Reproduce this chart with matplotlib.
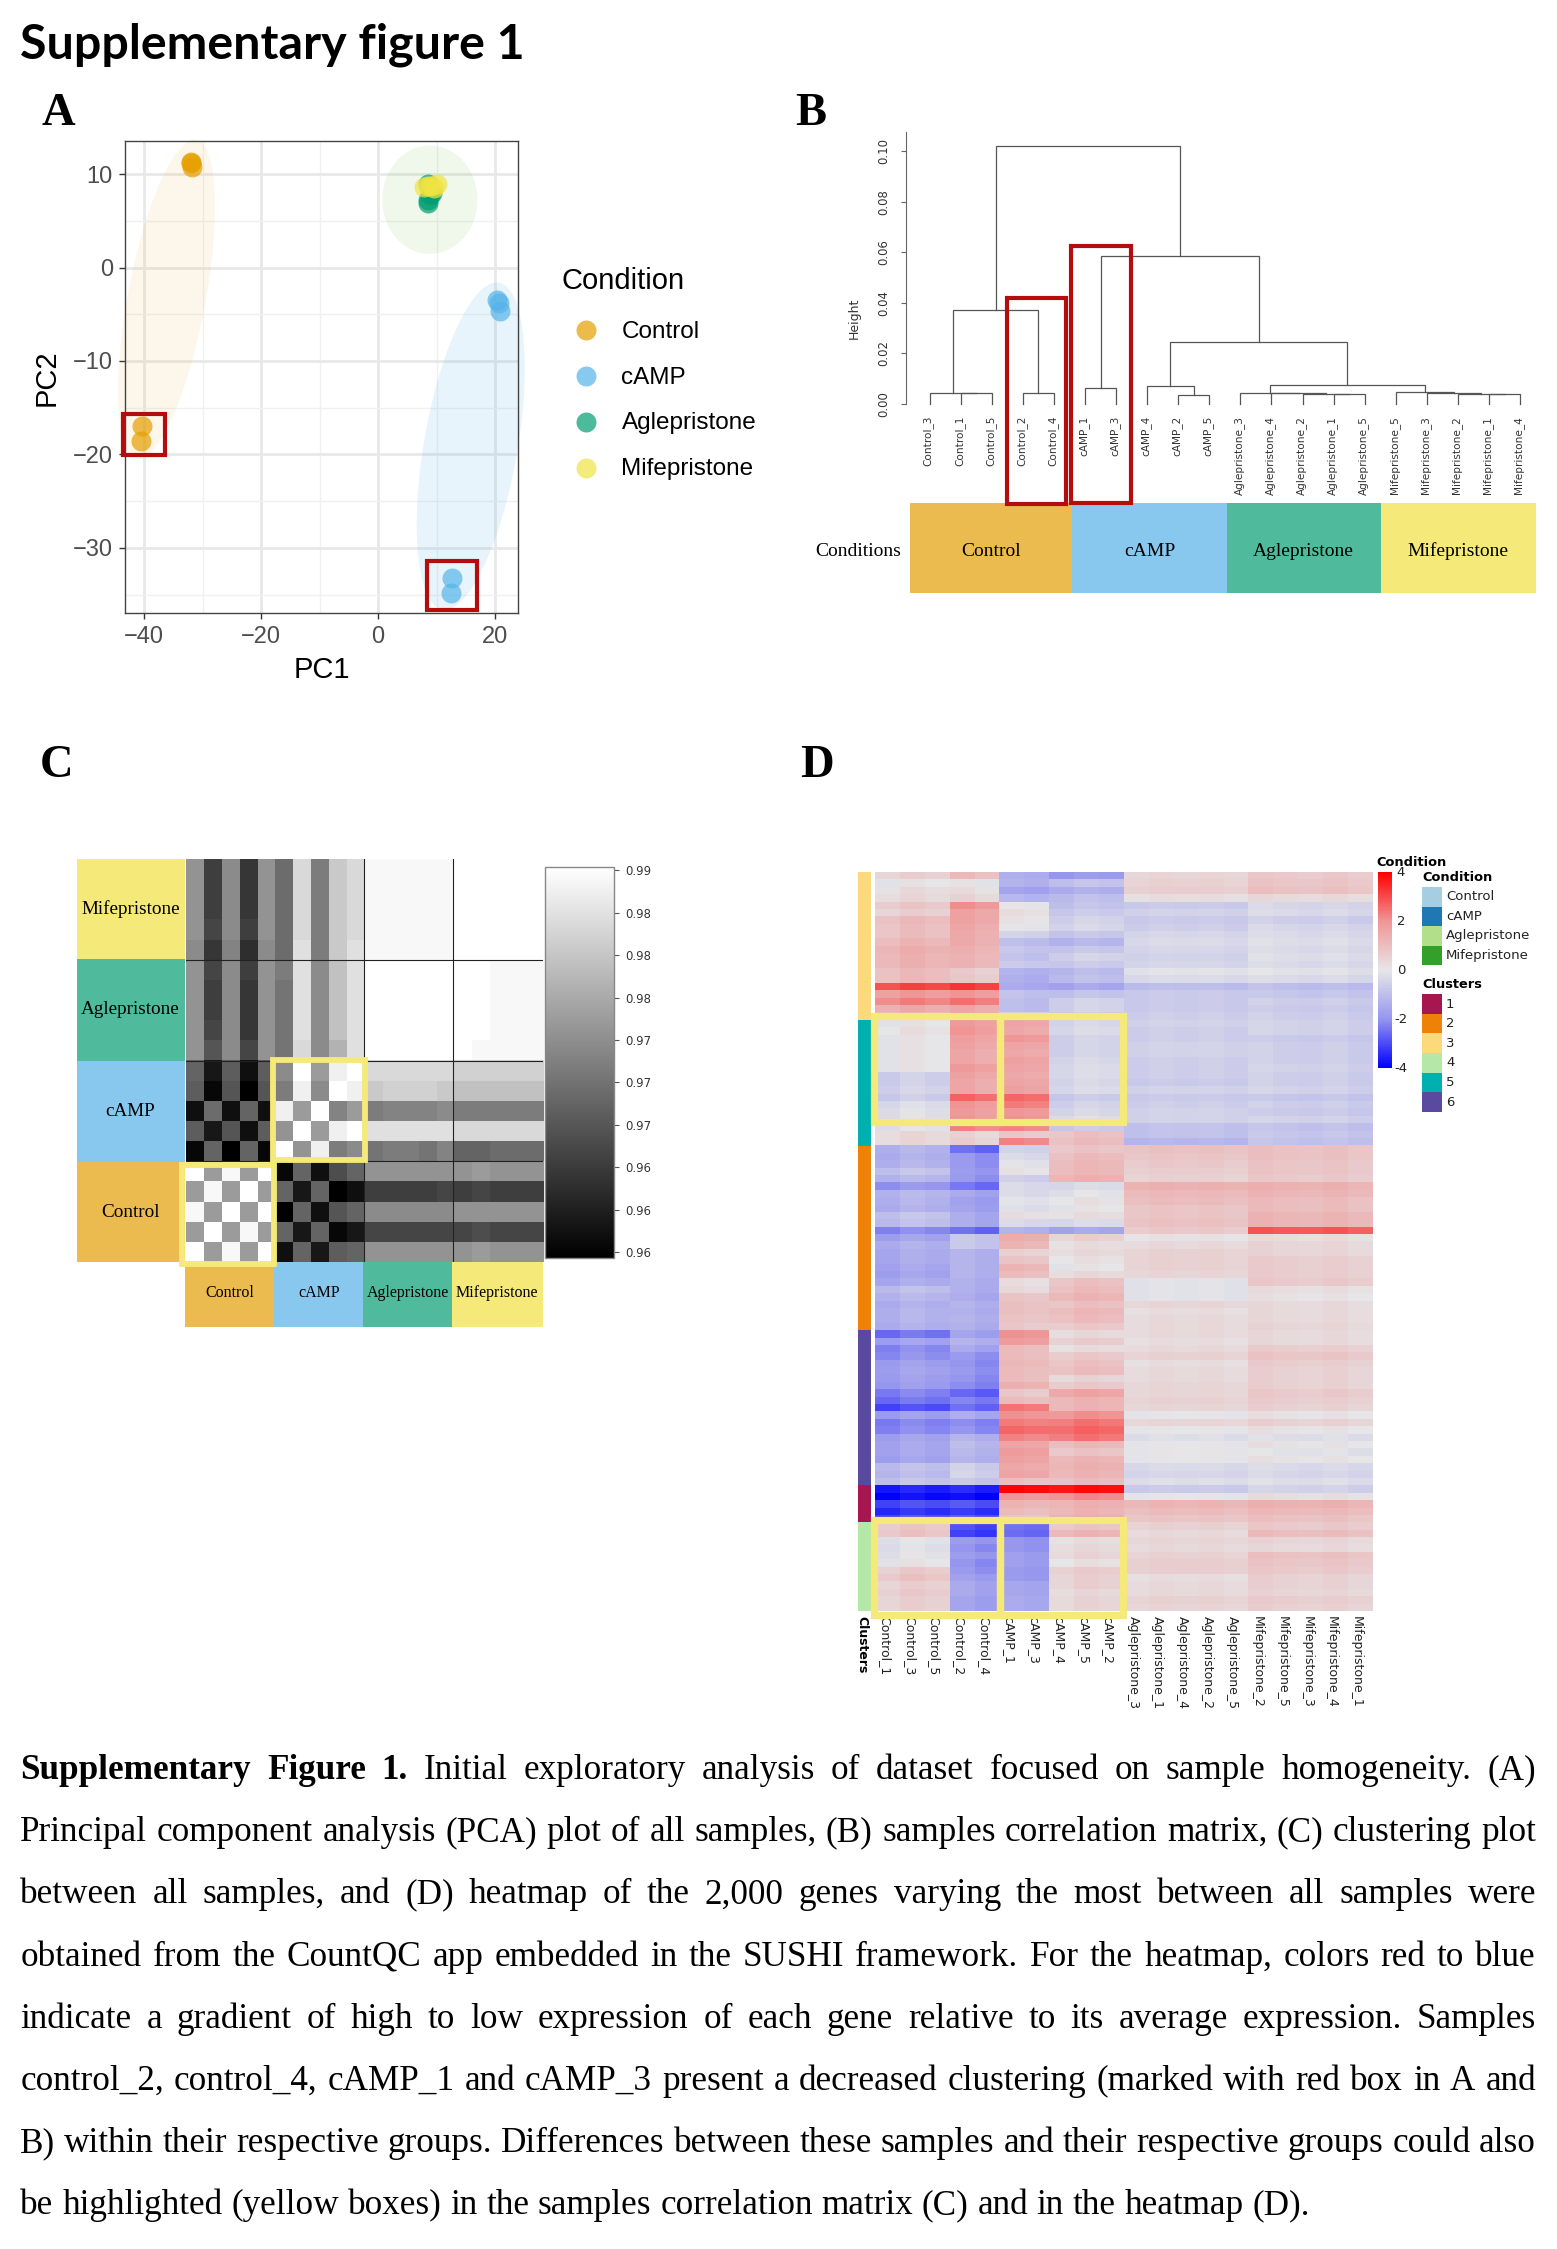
import numpy as np
import matplotlib
matplotlib.use("Agg")
import matplotlib.pyplot as plt
from matplotlib.colors import LinearSegmentedColormap
from matplotlib.patches import Rectangle

W, H = 1557, 2249
SERIF = "Liberation Serif"
SANS = "Liberation Sans"
C_CTRL, C_CAMP, C_AGLE, C_MIFE = "#ecbb4f", "#88c8ef", "#4fbb9c", "#f5e97a"
RED, YEL = "#b50d0d", "#f5e97a"

# ---------- Panel A data ----------
conditions = ["Control", "cAMP", "Aglepristone", "Mifepristone"]
pca_colors = ["#E69F00", "#56B4E9", "#009E73", "#F0E442"]
pc1 = [[-32.0, -31.8, -32.0, -40.4, -40.6],
       [20.3, 20.6, 20.9, 12.6, 12.5],
       [8.5, 8.9, 8.5, 8.6, 9.3],
       [7.8, 9.1, 10.0, 8.5, 9.5]]
pc2 = [[11.3, 10.7, 11.2, -17.0, -18.6],
       [-3.5, -3.8, -4.65, -33.2, -34.8],
       [8.9, 7.8, 6.9, 7.2, 8.0],
       [8.6, 8.7, 8.9, 8.75, 8.5]]
# centre x, centre y, half-width x, half-width y, correlation
ellipses = [(-36.2, -3.4, 8.3, 17.1, 0.58, "#E69F00", 0.08),
            (15.85, -19.1, 9.25, 17.5, 0.48, "#56B4E9", 0.14),
            (8.85, 7.25, 8.15, 5.8, 0.0, "#7CC04C", 0.11)]

# ---------- Panel B data: (height, left, right) ----------
den_ctrl = (0.0372,
            (0.0044, "Control_3", (0.0041, "Control_1", "Control_5")),
            (0.0044, "Control_2", "Control_4"))
den_camp13 = (0.0064, "cAMP_1", "cAMP_3")
den_camp = (0.0070, "cAMP_4", (0.0035, "cAMP_2", "cAMP_5"))
den_agle = (0.0044, "Aglepristone_3", (0.0041, "Aglepristone_4",
            (0.0038, "Aglepristone_2", (0.0037, "Aglepristone_1", "Aglepristone_5"))))
den_mife = (0.0045, "Mifepristone_5", (0.0044, "Mifepristone_3",
            (0.0040, "Mifepristone_2", (0.0039, "Mifepristone_1", "Mifepristone_4"))))
den_tree = (0.102, den_ctrl,
            (0.0587, den_camp13, (0.0246, den_camp, (0.0076, den_agle, den_mife))))

# ---------- Panel C data (rows top to bottom) ----------
corr = [
 [.976,.965,.975,.964,.976,.971,.985,.973,.983,.985,.989,.989,.989,.989,.989,.990,.990,.990,.990,.990],
 [.976,.965,.975,.964,.976,.971,.985,.973,.983,.985,.989,.989,.989,.989,.989,.990,.990,.990,.990,.990],
 [.976,.965,.975,.964,.976,.971,.985,.973,.983,.985,.989,.989,.989,.989,.989,.990,.990,.990,.990,.990],
 [.976,.966,.975,.965,.976,.971,.985,.973,.983,.985,.989,.989,.989,.989,.989,.990,.990,.990,.990,.990],
 [.975,.964,.974,.963,.975,.971,.986,.973,.983,.986,.989,.989,.989,.989,.989,.990,.990,.990,.990,.990],
 [.976,.966,.975,.965,.976,.973,.986,.975,.982,.986,.990,.990,.990,.990,.990,.990,.990,.989,.989,.989],
 [.976,.965,.975,.964,.976,.972,.986,.975,.982,.986,.990,.990,.990,.990,.990,.990,.990,.989,.989,.989],
 [.976,.965,.975,.964,.976,.972,.986,.975,.982,.986,.990,.990,.990,.990,.990,.990,.990,.989,.989,.989],
 [.976,.966,.975,.964,.976,.972,.986,.975,.982,.986,.990,.990,.990,.990,.990,.990,.990,.989,.989,.989],
 [.976,.968,.975,.966,.976,.972,.985,.975,.980,.986,.990,.990,.990,.990,.990,.990,.989,.989,.989,.989],
 [.970,.960,.969,.959,.969,.975,.990,.977,.988,.990,.985,.985,.985,.985,.985,.984,.984,.984,.984,.984],
 [.969,.958,.968,.957,.968,.973,.988,.975,.990,.988,.983,.984,.984,.984,.983,.982,.982,.982,.982,.982],
 [.959,.971,.959,.970,.959,.988,.977,.990,.974,.977,.973,.974,.974,.974,.975,.973,.973,.973,.973,.973],
 [.969,.960,.968,.959,.969,.976,.990,.977,.988,.990,.986,.986,.986,.986,.986,.985,.985,.985,.985,.985],
 [.958,.970,.957,.970,.958,.990,.976,.988,.973,.975,.972,.973,.973,.972,.974,.970,.970,.971,.971,.971],
 [.990,.977,.989,.977,.990,.958,.970,.959,.967,.970,.976,.976,.976,.976,.976,.976,.977,.976,.976,.976],
 [.977,.989,.977,.990,.977,.970,.960,.970,.957,.959,.965,.965,.965,.965,.966,.965,.966,.965,.965,.965],
 [.989,.977,.990,.977,.990,.957,.970,.959,.968,.970,.975,.975,.975,.975,.975,.976,.976,.976,.976,.976],
 [.977,.990,.977,.989,.977,.970,.960,.970,.958,.960,.966,.966,.966,.966,.966,.966,.967,.966,.966,.966],
 [.990,.977,.989,.977,.990,.959,.970,.960,.969,.970,.976,.976,.976,.976,.976,.976,.977,.976,.976,.976],
]
corr_cbar_labels = ["0.96", "0.96", "0.96", "0.97", "0.97", "0.97", "0.98", "0.98", "0.98", "0.99"]

# ---------- Panel D data ----------
heat_columns = ["Control_1", "Control_3", "Control_5", "Control_2", "Control_4",
                "cAMP_1", "cAMP_3", "cAMP_4", "cAMP_5", "cAMP_2",
                "Aglepristone_3", "Aglepristone_1", "Aglepristone_4", "Aglepristone_2", "Aglepristone_5",
                "Mifepristone_2", "Mifepristone_5", "Mifepristone_3", "Mifepristone_4", "Mifepristone_1"]
column_groups = [0, 0, 0, 1, 1, 2, 2, 3, 3, 3, 4, 4, 4, 4, 4, 5, 5, 5, 5, 5]
# each row: Control 1/3/5, Control 2/4, cAMP 1/3, cAMP 4/5/2, Aglepristone, Mifepristone
cluster3 = [[.5,1.0,-1.4,-1.9,.4,.7],[.0,.0,-1.3,-.9,.5,.8],[.2,.2,-1.7,-1.4,.6,.9],[.3,.4,-1.2,-1.0,.2,.3],
            [.7,2.0,.0,-.9,-.7,-.4],[.5,1.6,.2,-.7,-.5,-.3],[1.0,1.6,.1,-.5,-.7,-.6],[.9,1.5,.0,-.4,-.6,-.4],
            [.9,1.4,-.5,-.8,-.4,-.3],[1.1,1.4,-1.0,-1.2,-.3,-.2],[1.3,1.3,-.8,-.8,-.4,-.3],[1.2,1.2,-.9,-.5,-.5,-.2],
            [1.2,1.2,-.7,-.7,-.4,-.3],[1.0,.6,-1.3,-1.1,-.1,-.1],[1.0,.7,-1.4,-1.0,-.3,-.3],[3.0,3.2,-1.5,-1.6,-1.0,-1.0],
            [1.8,1.9,-.9,-.9,-.7,-.8],[2.2,2.4,-1.0,-.5,-.7,-.6],[1.4,1.5,-1.0,-.5,-.7,-.7],[1.2,1.6,-.6,-.7,-.6,-.6]]
cluster5 = [[.0,1.8,1.6,-.4,-.5,-.5],[.1,1.9,1.5,-.3,-.6,-.5],[.0,1.7,1.9,-.5,-.6,-.7],[.0,1.6,1.6,-.5,-.5,-.6],
            [.0,1.5,1.5,-.5,-.5,-.6],[.0,1.5,1.7,-.4,-.6,-.6],[.0,1.8,1.6,-.3,-.6,-.5],[-.6,1.6,1.5,-.3,-.6,-.6],
            [-.6,1.5,1.6,-.4,-.7,-.6],[-.5,1.5,1.7,-.3,-.5,-.5],[-.7,2.6,2.6,-.7,-.7,-.8],[-.3,1.9,2.3,-.5,-.6,-.6],
            [-.2,1.8,1.9,-.4,-.5,-.7],[-.2,1.9,2.0,-.2,-.5,-.5],[-.1,2.2,2.2,-.7,-.9,-.9],[.3,.4,.7,.9,-.9,-.8],
            [.3,.5,2.2,1.0,-1.2,-.9]]
cluster2 = [[-1.3,-2.6,-.5,.8,.9,.9],[-1.4,-2.0,-.3,1.0,.8,.9],[-1.3,-2.0,-.1,1.1,.7,.8],[-.9,-1.9,.1,1.1,.6,.8],
            [-1.2,-2.0,-.6,1.3,.5,.7],[-2.0,-2.5,-.3,-.3,1.3,1.3],[-1.2,-1.6,-.3,-.1,1.1,1.2],[-1.3,-1.8,-.1,.1,1.0,1.0],
            [-1.4,-1.7,-.2,.0,.8,1.0],[-.9,-1.5,.2,.2,.8,1.2],[-1.0,-1.5,-.3,-.3,.9,1.2],[-2.2,-2.6,-1.3,-1.6,.7,2.8],
            [-1.7,-.8,1.4,.5,.1,.2],[-1.4,-.8,1.2,.2,.3,.4],[-1.5,-1.3,.5,.3,.5,.4],[-1.5,-1.3,.8,.1,.5,.6],
            [-1.6,-1.3,1.2,.0,.5,.6],[-1.7,-1.3,1.0,.3,.4,.6],[-1.5,-1.4,.2,.9,-.1,.7],[-1.0,-1.4,.3,1.0,-.1,.2],
            [-1.2,-1.5,.8,1.2,-.1,.1],[-1.4,-1.3,.9,.9,.4,.3],[-1.3,-1.4,.9,1.1,.2,.3],[-1.3,-1.3,.8,1.0,.3,.3],
            [-1.4,-1.4,.7,.7,.3,.4]]
cluster6 = [[-2.5,-1.7,2.0,.3,.3,.3],[-1.7,-1.3,1.8,.6,.2,.3],[-2.2,-1.6,1.0,.2,.3,.6],[-2.1,-2.0,1.0,.7,.5,.8],
            [-1.8,-2.1,1.1,.9,.2,.6],[-1.7,-2.0,1.0,1.0,.3,.5],[-1.8,-2.1,1.0,.4,.3,.5],[-1.9,-2.2,1.3,.7,.4,.5],
            [-2.3,-2.7,.7,1.6,.4,.7],[-2.5,-2.3,1.0,1.2,.5,.6],[-3.0,-2.6,2.4,1.2,.4,.5],[-1.8,-1.5,2.0,2.0,.0,.1],
            [-2.3,-2.2,2.3,2.4,.4,.5],[-2.2,-2.1,2.6,2.6,.0,.1],[-1.7,-1.3,2.2,2.4,-.2,-.2],[-1.6,-1.1,1.6,1.1,.0,.1],
            [-1.6,-1.2,1.8,.8,.0,-.1],[-1.7,-1.3,1.7,1.2,.0,.1],[-1.0,-.6,1.5,1.3,-.3,-.3],[-1.1,-.5,1.6,1.2,-.4,-.4],
            [-.9,-.8,.9,1.0,-.2,-.2]]
cluster1 = [[-3.6,-3.5,3.9,3.8,-.7,-.5],[-3.9,-3.9,1.9,2.1,.0,.2],[-3.0,-2.9,1.2,1.3,1.2,1.3],
            [-3.4,-3.3,1.0,1.2,1.0,1.1],[-3.0,-2.9,.8,1.4,.8,.9]]
cluster4 = [[.7,-3.0,-2.5,.8,.5,.7],[.8,-3.2,-2.6,1.2,.3,1.0],[-.1,-1.9,-2.0,.2,.4,.4],[-.2,-2.1,-2.0,.3,.3,.3],
            [-.1,-1.9,-1.8,.4,.5,.9],[.0,-2.1,-1.8,.1,.6,.8],[.6,-2.0,-1.9,.6,.6,.7],[.8,-1.8,-1.9,.5,.2,.5],
            [.5,-1.6,-1.6,.5,.3,.5],[.6,-1.6,-1.6,.3,.3,.4],[.5,-1.7,-1.5,.4,.5,.6],[.5,-1.7,-1.5,.4,.4,.5]]
cluster_order = [("3", cluster3, "#fdd97e"), ("5", cluster5, "#00b0ae"), ("2", cluster2, "#ee8208"),
                 ("6", cluster6, "#5a4a9f"), ("1", cluster1, "#a6174f"), ("4", cluster4, "#b5e8a8")]
column_shift = [-.1, .15, 0, .1, -.1, .05, -.05, -.1, .1, 0, -.05, .05, 0, .05, -.05, .1, 0, -.05, .05, -.1]
legend_conditions = [("Control", "#a6cee3"), ("cAMP", "#1f78b4"), ("Aglepristone", "#b2df8a"), ("Mifepristone", "#33a02c")]
legend_clusters = [("1", "#a6174f"), ("2", "#ee8208"), ("3", "#fdd97e"), ("4", "#b5e8a8"), ("5", "#00b0ae"), ("6", "#5a4a9f")]

caption_lines = [
    "Supplementary Figure 1. Initial exploratory analysis of dataset focused on sample homogeneity. (A)",
    "Principal component analysis (PCA) plot of all samples, (B) samples correlation matrix, (C) clustering plot",
    "between all samples, and (D) heatmap of the 2,000 genes varying the most between all samples were",
    "obtained from the CountQC app embedded in the SUSHI framework. For the heatmap, colors red to blue",
    "indicate a gradient of high to low expression of each gene relative to its average expression. Samples",
    "control_2, control_4, cAMP_1 and cAMP_3 present a decreased clustering (marked with red box in A and",
    "B) within their respective groups. Differences between these samples and their respective groups could also",
    "be highlighted (yellow boxes) in the samples correlation matrix (C) and in the heatmap (D).",
]

# ---------- Figure ----------
fig = plt.figure(figsize=(W / 100, H / 100), dpi=100, facecolor="white")


def px_axes(x0, y0, x1, y1, **kw):
    return fig.add_axes([x0 / W, 1 - y1 / H, (x1 - x0) / W, (y1 - y0) / H], **kw)


ov = fig.add_axes([0, 0, 1, 1], zorder=20)
ov.set_xlim(0, W)
ov.set_ylim(H, 0)
ov.axis("off")
ov.patch.set_alpha(0)


def box(x0, y0, x1, y1, color, lw, fill=False):
    if fill:
        ov.add_patch(Rectangle((x0, y0), x1 - x0, y1 - y0, facecolor=color, edgecolor="none"))
    else:
        ov.add_patch(Rectangle((x0, y0), x1 - x0, y1 - y0, fill=False, edgecolor=color, linewidth=lw, joinstyle="miter"))


ov.text(20, 45, "Supplementary figure 1", family="Lato", weight="bold", fontsize=34.8, va="center", ha="left", color="black")
for letter, lx, ly in [("A", 58, 114), ("B", 811, 114), ("C", 57, 766), ("D", 817, 766)]:
    ov.text(lx, ly, letter, family=SERIF, weight="bold", fontsize=33.5, ha="center", va="center", color="black")

# ---------- Panel A ----------
axA = px_axes(125.3, 141.3, 517.8, 613.4)
axA.set_xlim(-43.25, 23.9)
axA.set_ylim(-37.0, 13.5)
axA.set_axisbelow(True)
axA.set_xticks([-40, -20, 0, 20])
axA.set_yticks([-30, -20, -10, 0, 10])
axA.set_xticks([-30, -10, 10], minor=True)
axA.set_yticks([-35, -25, -15, -5, 5], minor=True)
axA.grid(True, which="major", color="#e8e8e8", lw=2.0)
axA.grid(True, which="minor", color="#f0f0f0", lw=1.0)
axA.tick_params(axis="both", which="minor", length=0)
axA.tick_params(axis="both", which="major", length=4, width=1, color="#333333", labelsize=17, labelcolor="#4d4d4d", pad=5)
for lab in axA.get_xticklabels() + axA.get_yticklabels():
    lab.set_family(SANS)
for sp in axA.spines.values():
    sp.set_color("#444444")
    sp.set_linewidth(1.0)
axA.set_xlabel("PC1", family=SANS, fontsize=21, labelpad=6)
axA.set_ylabel("PC2", family=SANS, fontsize=21, labelpad=9)
theta = np.deg2rad(np.arange(0, 361, 3))
for cx, cy, sx, sy, rho, col, alpha in ellipses:
    axA.fill(cx + sx * np.cos(theta), cy + sy * np.cos(theta - np.arccos(rho)),
             color=col, alpha=alpha, lw=0, clip_on=False, zorder=1.5)
for xs, ys, col in zip(pc1, pc2, pca_colors):
    axA.scatter(xs, ys, s=207, color=col, alpha=0.7, linewidths=0, zorder=3)
ov.text(562, 281, "Condition", family=SANS, fontsize=21, va="center", ha="left", color="black")
for name, col, ly in zip(conditions, pca_colors, [330, 376, 421.5, 467.5]):
    ov.scatter([586], [ly], s=207, color=col, alpha=0.7, linewidths=0)
    ov.text(621.5, ly + 1.5, name, family=SANS, fontsize=17.5, va="center", ha="left", color="black")
box(122.8, 414, 165.1, 454.8, RED, 3)
box(426.8, 560.8, 477.5, 610.2, RED, 3)

# ---------- Panel B ----------
axB = px_axes(906.3, 132.3, 1534.7, 403.7)
axB.set_xlim(-0.75, 19.47)
axB.set_ylim(0, 0.1075)
for s in ["top", "right", "bottom"]:
    axB.spines[s].set_visible(False)
axB.spines["left"].set_color("#666666")
axB.set_xticks([])
axB.set_yticks([0, 0.02, 0.04, 0.06, 0.08, 0.10])
axB.set_yticklabels(["0.00", "0.02", "0.04", "0.06", "0.08", "0.10"], rotation=90, va="center",
                    fontsize=8.4, color="#333333", family="DejaVu Sans")
axB.tick_params(axis="y", length=3.6, width=0.8, color="#666666", pad=8)
leaf_counter = [0]


def draw_tree(node):
    if isinstance(node, str):
        x = leaf_counter[0]
        leaf_counter[0] += 1
        axB.text(x - 0.04, -0.0048, node, rotation=90, ha="center", va="top", fontsize=7.6,
                 color="#333333", family="DejaVu Sans", clip_on=False)
        return x, 0.0
    h, left, right = node
    xl, hl = draw_tree(left)
    xr, hr = draw_tree(right)
    axB.plot([xl, xl, xr, xr], [hl, h, h, hr], color="#555555", lw=0.9, solid_joinstyle="miter", clip_on=False)
    return (xl + xr) / 2, h


draw_tree(den_tree)
ov.text(854.5, 318.3, "Height", rotation=90, ha="center", va="center", fontsize=9, color="#333333", family="DejaVu Sans")
bar_edges = [910.2, 1072.3, 1226.9, 1380.6, 1535.8]
for i, (name, col) in enumerate(zip(conditions, [C_CTRL, C_CAMP, C_AGLE, C_MIFE])):
    box(bar_edges[i], 503, bar_edges[i + 1], 593.2, col, 0, fill=True)
    ov.text((bar_edges[i] + bar_edges[i + 1]) / 2, 551, name, family=SERIF, fontsize=14, ha="center", va="center", color="black")
ov.text(901, 551, "Conditions", family=SERIF, fontsize=14, ha="right", va="center", color="black")
box(1006.9, 297.7, 1066.4, 503.6, RED, 3)
box(1071.3, 246.3, 1130.9, 503.3, RED, 3)

# ---------- Panel C ----------
axC = px_axes(185.5, 859.3, 542.6, 1262)
imC = axC.imshow(np.array(corr), cmap="gray", vmin=0.957, vmax=0.990, aspect="auto", interpolation="nearest")
axC.set_xticks([])
axC.set_yticks([])
for sp in axC.spines.values():
    sp.set_visible(False)
for v in [9.5, 14.5]:
    axC.axvline(v, color="#222222", lw=0.8)
for v in [4.5, 9.5, 14.5]:
    axC.axhline(v, color="#222222", lw=0.8)
caxC = px_axes(544.9, 866.7, 613.6, 1258)
cb = fig.colorbar(imC, cax=caxC)
cb.set_ticks(np.linspace(0.9575, 0.9897, 10))
cb.set_ticklabels(corr_cbar_labels)
cb.ax.tick_params(length=3.6, width=0.8, color="#555555", labelsize=8.4, labelcolor="#333333", pad=5)
cb.outline.set_edgecolor("#888888")
cb.outline.set_linewidth(1)
rows_c = [859.3, 959.3, 1060.7, 1162.3, 1262]
for i, (name, col) in enumerate(zip(["Mifepristone", "Aglepristone", "cAMP", "Control"], [C_MIFE, C_AGLE, C_CAMP, C_CTRL])):
    box(76.9, rows_c[i], 185.5, rows_c[i + 1], col, 0, fill=True)
    ov.text(130.5, (rows_c[i] + rows_c[i + 1]) / 2, name, family=SERIF, fontsize=13.8, ha="center", va="center", color="black")
cols_c = [185.5, 274.3, 363.3, 452, 542.6]
for i, (name, col) in enumerate(zip(conditions, [C_CTRL, C_CAMP, C_AGLE, C_MIFE])):
    box(cols_c[i], 1262, cols_c[i + 1], 1327.3, col, 0, fill=True)
    ov.text((cols_c[i] + cols_c[i + 1]) / 2, 1293, name, family=SERIF, fontsize=11.5, ha="center", va="center", color="black")
box(182.2, 1165, 273.6, 1264.3, YEL, 4.2)
box(273.2, 1060.3, 364.6, 1160.3, YEL, 4.2)

# ---------- Panel D ----------
blocks = [np.array(c)[:, column_groups] + np.array(column_shift) for _, c, _ in cluster_order]
heat = np.vstack(blocks)
HX0, HX1 = 875.0, 1372.0
axD = px_axes(HX0, 872.3, HX1, 1611)
heat_cmap = LinearSegmentedColormap.from_list("bwr_grey", ["#0000ff", "#9696ef", "#e6e6e8", "#f09696", "#ff0000"])
imD = axD.imshow(heat, cmap=heat_cmap, vmin=-4, vmax=4, aspect="auto", interpolation="nearest")
axD.set_xticks([])
axD.set_yticks([])
for sp in axD.spines.values():
    sp.set_visible(False)
col_w = (HX1 - HX0) / len(heat_columns)
for i, name in enumerate(heat_columns):
    ov.text(HX0 + (i + 0.5) * col_w - 3, 1616, name, rotation=270, fontsize=9, family="DejaVu Sans",
            color="#222222", ha="center", va="top", zorder=1)
axS = px_axes(857.8, 872.3, 870.8, 1611)
axS.set_xlim(0, 1)
axS.set_ylim(len(heat), 0)
axS.axis("off")
start = 0
for (_, c, col) in cluster_order:
    axS.barh(start + len(c) / 2, 1, height=len(c), left=0, color=col, lw=0)
    start += len(c)
ov.text(862, 1616, "Clusters", rotation=270, ha="center", va="top", fontsize=9, weight="bold", family="DejaVu Sans", color="black")
caxD = px_axes(1378.4, 872.3, 1391.9, 1068)
cbD = fig.colorbar(imD, cax=caxD)
cbD.set_ticks([])
cbD.outline.set_visible(False)
for lab, ly in zip(["4", "2", "0", "-2", "-4"], [873, 921.7, 970, 1019.3, 1068.3]):
    ov.text(1401, ly, lab, ha="center", va="center", fontsize=9.5, family="DejaVu Sans", color="#222222")
ov.text(1376, 862.7, "Condition", weight="bold", fontsize=9.4, family="DejaVu Sans", ha="left", va="center")
ov.text(1422.5, 877.7, "Condition", weight="bold", fontsize=9.4, family="DejaVu Sans", ha="left", va="center")
ov.text(1422.5, 985, "Clusters", weight="bold", fontsize=9.4, family="DejaVu Sans", ha="left", va="center")
for i, (name, col) in enumerate(legend_conditions):
    y0 = 887 + 19.5 * i
    box(1422.5, y0, 1442, y0 + 19.5, col, 0, fill=True)
    ov.text(1446, y0 + 10, name, fontsize=9.5, family="DejaVu Sans", va="center", ha="left", color="#222222")
for i, (name, col) in enumerate(legend_clusters):
    y0 = 994.3 + 19.56 * i
    box(1422.5, y0, 1442, y0 + 19.56, col, 0, fill=True)
    ov.text(1446, y0 + 10, name, fontsize=9.5, family="DejaVu Sans", va="center", ha="left", color="#222222")
box(873.7, 1015.7, 1000.5, 1122, YEL, 5.2)
box(1000.5, 1015.7, 1122.7, 1122, YEL, 5.2)
box(873.7, 1519.7, 1000.5, 1614.7, YEL, 5.2)
box(1000.5, 1519.7, 1122.7, 1614.7, YEL, 5.2)

# ---------- Caption (justified word by word) ----------
fig.canvas.draw()
rend = fig.canvas.get_renderer()


def word_w(word, size, weight):
    t = ov.text(0, 0, word, family=SERIF, fontsize=size, weight=weight)
    w = t.get_window_extent(rend).width
    t.remove()
    return w


CAP_L, CAP_R = 20.4, 1536.0
CAP_SIZE = 25.3
for k, line in enumerate(caption_lines):
    words = line.split(" ")
    weights = ["bold" if (k == 0 and i < 3) else "normal" for i in range(len(words))]
    widths = [word_w(w, CAP_SIZE, wt) for w, wt in zip(words, weights)]
    if k == len(caption_lines) - 1:
        gap = word_w("a a", CAP_SIZE, "normal") - 2 * word_w("a", CAP_SIZE, "normal")
    else:
        gap = (CAP_R - CAP_L - sum(widths)) / (len(words) - 1)
    x = CAP_L
    y = 1779 + 62.2 * k
    for w, wt, ww in zip(words, weights, widths):
        ov.text(x, y, w, family=SERIF, fontsize=CAP_SIZE, weight=wt, ha="left", va="baseline", color="black")
        x += ww + gap

fig.savefig("out.png", dpi=100, facecolor="white")
